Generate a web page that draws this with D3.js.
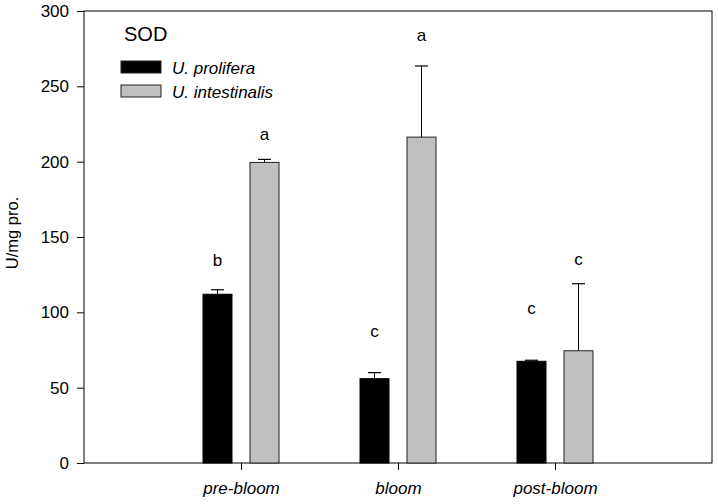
<!DOCTYPE html>
<html><head><meta charset="utf-8">
<script src="https://cdn.jsdelivr.net/npm/d3@7"></script>
<style>body{margin:0;background:#fff}text{font-family:Arial,"Liberation Sans",sans-serif}</style>
</head><body><svg id="c" width="718" height="504"></svg>
<script>
const categories = ["pre-bloom", "bloom", "post-bloom"];
const seriesNames = ["U. prolifera", "U. intestinalis"];
const prolifera = [112, 56, 67.5];
const proliferaErr = [3, 4, 0.7];
const intestinalis = [199.5, 216.3, 74.5];
const intestinalisErr = [2, 47.2, 44.5];
const proliferaLetters = ["b", "c", "c"];
const intestinalisLetters = ["a", "a", "c"];
const letterPosP = [131, 83.6, 99.2];
const letterPosI = [214.4, 280.3, 131.4];
const yTicks = [0, 50, 100, 150, 200, 250, 300];

const FONT = "Arial, 'Liberation Sans', sans-serif";
const svg = d3.select("#c");
const L = 84, R = 712, T = 11, B = 463;
const x = d3.scaleLinear().domain([0, 4]).range([L, R]);
const y = d3.scaleLinear().domain([0, 300]).range([B, T]);
const bw = 29, off = 23.5;

const series = [
  {vals: prolifera, err: proliferaErr, fill: "#000", stroke: "#000", dx: -off, letters: proliferaLetters, lp: letterPosP},
  {vals: intestinalis, err: intestinalisErr, fill: "#c0c0c0", stroke: "#222", dx: off, letters: intestinalisLetters, lp: letterPosI}
];

// frame
svg.append("rect").attr("x", L).attr("y", T).attr("width", R - L).attr("height", B - T)
  .attr("fill", "none").attr("stroke", "#000").attr("stroke-width", 1);

series.forEach(s => {
  const g = svg.append("g");
  categories.forEach((c, i) => {
    const cx = x(i + 1) + s.dx;
    const top = y(s.vals[i] + s.err[i]);
    g.append("line").attr("x1", cx).attr("x2", cx).attr("y1", y(s.vals[i])).attr("y2", top)
      .attr("stroke", "#000").attr("stroke-width", 1);
    g.append("line").attr("x1", cx - 6.5).attr("x2", cx + 6.5).attr("y1", top).attr("y2", top)
      .attr("stroke", "#000").attr("stroke-width", 1.2);
    g.append("rect").attr("x", cx - bw / 2).attr("y", y(s.vals[i])).attr("width", bw)
      .attr("height", y(0) - y(s.vals[i])).attr("fill", s.fill).attr("stroke", s.stroke).attr("stroke-width", 1);
    g.append("text").attr("x", cx).attr("y", y(s.lp[i]))
      .attr("text-anchor", "middle").attr("font-size", 17).text(s.letters[i]);
  });
});

// y axis
const ya = svg.append("g").attr("transform", `translate(${L},0)`)
  .call(d3.axisLeft(y).tickValues(yTicks).tickSize(7).tickPadding(8));
ya.select(".domain").remove();
ya.selectAll("text").attr("font-size", 17).attr("font-family", FONT).attr("fill", "#000");
ya.selectAll("line").attr("stroke", "#000");

// x axis
const xa = svg.append("g").attr("transform", `translate(0,${B})`)
  .call(d3.axisBottom(x).tickValues([1, 2, 3]).tickFormat(d => categories[d - 1]).tickSize(7).tickPadding(12));
xa.select(".domain").remove();
xa.selectAll("text").attr("font-size", 17).attr("font-style", "italic")
  .attr("font-family", FONT).attr("fill", "#000");
xa.selectAll("line").attr("stroke", "#000");

// y label
svg.append("text").attr("transform", `translate(18,${233}) rotate(-90)`)
  .attr("text-anchor", "middle").attr("font-size", 16.5).text("U/mg pro.");

// title
svg.append("text").attr("x", 124).attr("y", 41).attr("font-size", 20).text("SOD");

// legend
seriesNames.forEach((n, i) => {
  const ly = 61 + i * 24;
  svg.append("rect").attr("x", 121).attr("y", ly).attr("width", 40).attr("height", 12)
    .attr("fill", series[i].fill).attr("stroke", "#222").attr("stroke-width", 1);
  svg.append("text").attr("x", 172).attr("y", ly + 13)
    .attr("font-size", 17).attr("font-style", "italic").text(n);
});
</script></body></html>
